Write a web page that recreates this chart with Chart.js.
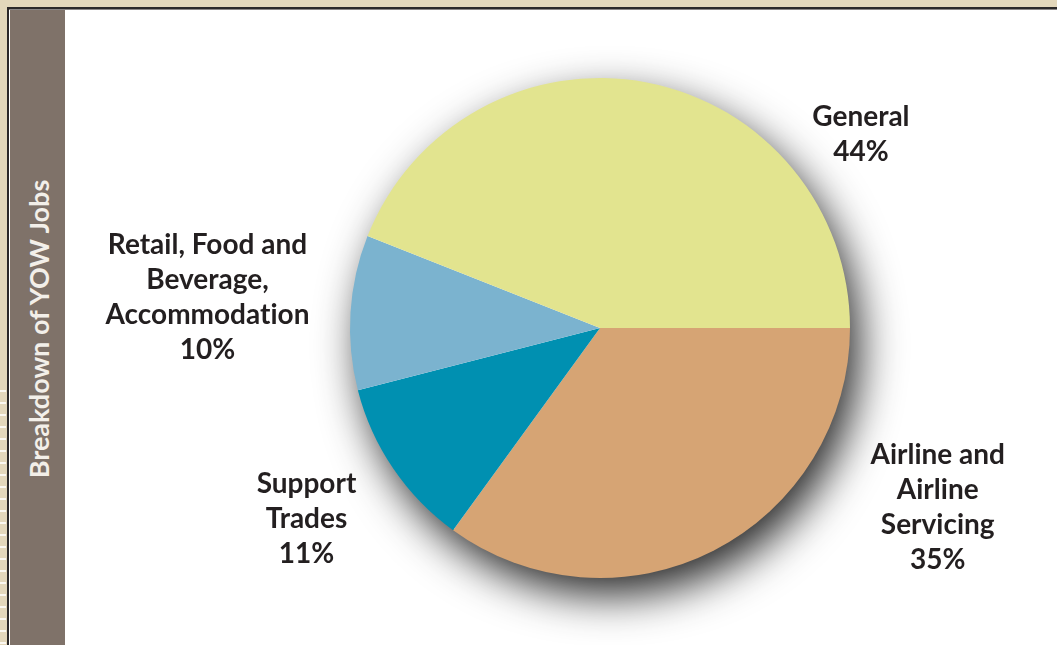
<!DOCTYPE html>
<html>
<head>
<meta charset="utf-8">
<script src="https://cdn.jsdelivr.net/npm/chart.js@4"></script>
<style>
  html, body { margin: 0; padding: 0; }
  body { width: 1057px; height: 645px; background: #e3d7bb; position: relative; overflow: hidden; font-family: Lato, sans-serif; }
  #ruler { position: absolute; left: 0; top: 380px; width: 6px; height: 265px;
    background: repeating-linear-gradient(to bottom, #e3d7bb 0, #e3d7bb 10px, #fbf8f1 10px, #fbf8f1 12px); }
  #frame { position: absolute; left: 7px; top: 7px; right: 0; bottom: 0; background: #fff;
    border-top: 2px solid #2b2829; border-left: 2px solid #2b2829; }
  #frame::before { content: ""; position: absolute; left: 0; top: 0; right: 0; height: 1px; background: #8a8686; }
  #side { position: absolute; left: 10px; top: 10px; width: 55px; bottom: 0; background: #7f7269; }
  #side span { position: absolute; left: 50%; top: 319px; transform: translate(-50%, -50%) rotate(-90deg);
    white-space: nowrap; color: #f3efe9; font-weight: 700; font-size: 27px; font-variant-ligatures: none; }
  #wrap { position: absolute; left: 65px; top: 11px; width: 992px; height: 634px; }
</style>
</head>
<body>
<div id="ruler"></div>
<div id="frame"></div>
<div id="side"><span>Breakdown of YOW Jobs</span></div>
<div id="wrap"><canvas id="pieChart"></canvas></div>
<script>
// slices, clockwise from 3 o'clock
const categories = [
    ["Airline and", "Airline", "Servicing"],
    ["Support", "Trades"],
    ["Retail, Food and", "Beverage,", "Accommodation"],
    ["General"]
];
const shares = [35, 11, 10, 44];
const sliceColors = ["#d6a474", "#0090b1", "#7bb3cf", "#e2e48f"];

// where each label block sits: angle (deg, clockwise from east) and distance in radii
const labelSpots = [
    { angle: 28, dist: 1.53 },
    { angle: 147, dist: 1.40 },
    { angle: 184.5, dist: 1.575 },
    { angle: -36.6, dist: 1.30 }
];

const pieShadow = {
    id: "pieShadow",
    beforeDatasetsDraw(chart) {
        const arc = chart.getDatasetMeta(0).data[0];
        if (!arc) return;
        const ctx = chart.ctx;
        ctx.save();
        ctx.shadowColor = "rgba(0, 0, 0, 0.85)";
        ctx.shadowBlur = 44;
        ctx.shadowOffsetX = 10;
        ctx.shadowOffsetY = 18;
        ctx.fillStyle = "#ffffff";
        ctx.beginPath();
        ctx.arc(arc.x, arc.y, arc.outerRadius - 1, 0, Math.PI * 2);
        ctx.fill();
        ctx.restore();
    }
};

const sliceLabels = {
    id: "sliceLabels",
    afterDatasetsDraw(chart) {
        const arc = chart.getDatasetMeta(0).data[0];
        if (!arc) return;
        const ctx = chart.ctx;
        const lineH = 35;
        ctx.save();
        ctx.fillStyle = "#231f20";
        ctx.font = "bold 28px Lato";
        ctx.textRendering = "optimizeSpeed";
        ctx.textAlign = "center";
        ctx.textBaseline = "middle";
        chart.data.labels.forEach((lines, i) => {
            const spot = labelSpots[i];
            const a = spot.angle * Math.PI / 180;
            const cx = arc.x + Math.cos(a) * spot.dist * arc.outerRadius;
            const cy = arc.y + Math.sin(a) * spot.dist * arc.outerRadius;
            const all = lines.concat([chart.data.datasets[0].data[i] + "%"]);
            const top = cy - (all.length - 1) * lineH / 2;
            all.forEach((txt, j) => ctx.fillText(txt, cx, top + j * lineH));
        });
        ctx.restore();
    }
};

const ctx = document.getElementById("pieChart").getContext("2d");

const pieChart = new Chart(ctx, {
    type: "pie",
    data: {
        labels: categories,
        datasets: [{
            data: shares,
            backgroundColor: sliceColors,
            borderWidth: 0,
            hoverOffset: 0,
            radius: 250
        }]
    },
    options: {
        responsive: true,
        maintainAspectRatio: false,
        animation: false,
        events: [],
        rotation: 90,
        layout: { padding: { left: 78, right: 0, top: 0, bottom: 0 } },
        plugins: {
            legend: { display: false },
            tooltip: { enabled: false }
        }
    },
    plugins: [pieShadow, sliceLabels]
});
</script>
</body>
</html>
